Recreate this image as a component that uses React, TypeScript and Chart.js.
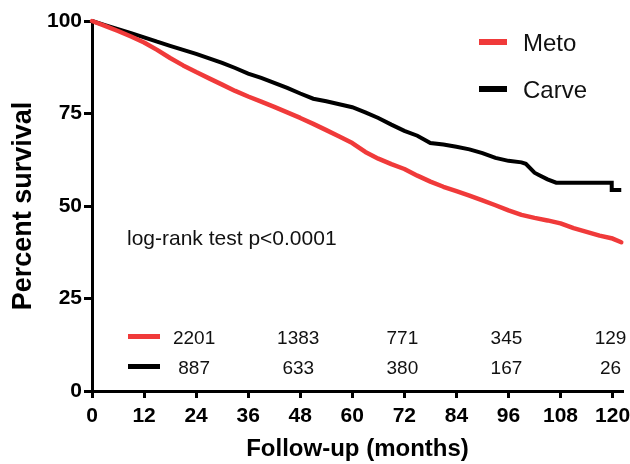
import React, { useEffect, useRef } from 'react';
import { Chart, registerables } from 'chart.js';

Chart.register(...registerables);

// ---- data ----
const seriesNames = ['Meto', 'Carve'];
const metoMonths = [0, 3, 6, 9, 12, 15, 18, 21, 24, 27, 30, 33, 36, 39, 42, 45, 48, 51, 54, 57, 60, 63, 66, 69, 72, 75, 78, 81, 84, 87, 90, 93, 96, 99, 102, 105, 108, 111, 114, 117, 120, 122];
const metoSurvival = [100, 98.7, 97.3, 95.8, 94.2, 92.2, 90, 88, 86.2, 84.5, 82.8, 81.1, 79.6, 78.2, 76.8, 75.3, 73.8, 72.2, 70.5, 68.8, 67, 64.6, 62.8, 61.3, 60, 58.2, 56.6, 55.2, 54, 52.8, 51.5, 50.2, 48.8, 47.6, 46.8, 46.1, 45.3, 44, 43, 42, 41.2, 40.2];
const carveMonths = [0, 3, 6, 9, 12, 15, 18, 21, 24, 27, 30, 33, 36, 39, 42, 45, 48, 51, 54, 57, 60, 63, 66, 69, 72, 75, 78, 81, 84, 87, 90, 93, 96, 99, 100, 102, 103, 105, 107, 119.8, 119.8, 122];
const carveSurvival = [100, 98.9, 97.8, 96.7, 95.6, 94.4, 93.3, 92.2, 91.1, 89.9, 88.7, 87.3, 85.8, 84.6, 83.3, 81.9, 80.4, 79, 78.3, 77.5, 76.7, 75.3, 73.8, 72, 70.3, 69, 67, 66.6, 66, 65.3, 64.3, 63, 62.2, 61.8, 61.4, 59, 58.4, 57.2, 56.3, 56.3, 54.3, 54.3];
const xTickStep = 12;
const yTickStep = 25;
const riskMonths = [24, 48, 72, 96, 120];
const metoAtRisk = [2201, 1383, 771, 345, 129];
const carveAtRisk = [887, 633, 380, 167, 26];
const testLabel = 'log-rank test p<0.0001';
const xTitle = 'Follow-up (months)';
const yTitle = 'Percent survival';

const RED = '#f03a3a';
const BLACK = '#000000';
const FONT = '"Liberation Sans", Arial, Helvetica, sans-serif';

const overlayPlugin = {
  id: 'kmOverlay',
  afterDraw(chart: any) {
    const { ctx, chartArea, scales } = chart;
    const x = scales.x;
    const colors = [RED, BLACK];
    ctx.save();
    ctx.fillStyle = '#111';
    ctx.textBaseline = 'alphabetic';

    // legend (top-right)
    const legLineX1 = chartArea.right - 144;
    const legLineX2 = chartArea.right - 116;
    const legTextX = chartArea.right - 100;
    const legLineY = [chartArea.top + 21, chartArea.top + 68];
    ctx.font = '24px ' + FONT;
    ctx.textAlign = 'left';
    seriesNames.forEach((name, i) => {
      ctx.strokeStyle = colors[i];
      ctx.lineWidth = 6;
      ctx.beginPath();
      ctx.moveTo(legLineX1, legLineY[i]);
      ctx.lineTo(legLineX2, legLineY[i]);
      ctx.stroke();
      ctx.fillText(name, legTextX, legLineY[i] + 9);
    });

    // log-rank annotation
    ctx.font = '21px ' + FONT;
    ctx.fillText(testLabel, chartArea.left + 35, chartArea.top + 224);

    // numbers at risk
    const rowY = [chartArea.bottom - 54.5, chartArea.bottom - 24.5];
    const rows = [metoAtRisk, carveAtRisk];
    ctx.font = '19px ' + FONT;
    ctx.textAlign = 'center';
    rows.forEach((vals, r) => {
      ctx.strokeStyle = colors[r];
      ctx.lineWidth = 5;
      ctx.beginPath();
      ctx.moveTo(chartArea.left + 36, rowY[r]);
      ctx.lineTo(chartArea.left + 68, rowY[r]);
      ctx.stroke();
      vals.forEach((v, i) => {
        ctx.fillText(String(v), x.getPixelForValue(riskMonths[i]) - 2, rowY[r] + 7);
      });
    });
    ctx.restore();
  },
};

export default function App() {
  const canvasRef = useRef<HTMLCanvasElement | null>(null);

  useEffect(() => {
    if (!canvasRef.current) return;
    const chart = new Chart(canvasRef.current, {
      type: 'line',
      data: {
        datasets: [
          {
            label: seriesNames[0],
            data: metoMonths.map((m, i) => ({ x: m, y: metoSurvival[i] })),
            borderColor: RED,
            borderWidth: 4.5,
            pointRadius: 0,
            tension: 0,
            fill: false,
            clip: false as any,
            borderJoinStyle: 'round',
            borderCapStyle: 'round',
          },
          {
            label: seriesNames[1],
            data: carveMonths.map((m, i) => ({ x: m, y: carveSurvival[i] })),
            borderColor: BLACK,
            borderWidth: 4,
            pointRadius: 0,
            tension: 0,
            fill: false,
            clip: false as any,
            borderJoinStyle: 'miter',
          },
        ],
      },
      options: {
        responsive: false,
        animation: false,
        layout: { padding: { top: 21, right: 7, left: 0, bottom: 0 } },
        plugins: { legend: { display: false }, tooltip: { enabled: false } },
        scales: {
          x: {
            type: 'linear',
            min: 0,
            max: 122.4,
            afterFit: (s: any) => { s.height = 73; s.paddingRight = 0; s.paddingLeft = 0; },
            ticks: {
              stepSize: xTickStep,
              includeBounds: false,
              color: '#000',
              padding: 6,
              maxRotation: 0,
              font: { family: FONT, size: 21, weight: 'bold' },
            },
            grid: { drawOnChartArea: false, drawTicks: true, tickLength: 7, tickWidth: 3, tickColor: '#000' },
            border: { display: true, color: '#000', width: 3 },
            title: {
              display: true,
              text: xTitle,
              color: '#000',
              font: { family: FONT, size: 24, weight: 'bold' },
              padding: { top: 0, bottom: 0 },
            },
          },
          y: {
            type: 'linear',
            min: 0,
            max: 100,
            afterFit: (s: any) => { s.width = 92; s.paddingTop = 0; s.paddingBottom = 0; },
            ticks: {
              stepSize: yTickStep,
              color: '#000',
              padding: 2,
              font: { family: FONT, size: 21, weight: 'bold' },
            },
            grid: { drawOnChartArea: false, drawTicks: true, tickLength: 8, tickWidth: 3, tickColor: '#000' },
            border: { display: true, color: '#000', width: 3 },
            title: {
              display: true,
              text: yTitle,
              color: '#000',
              font: { family: FONT, size: 27, weight: 'bold' },
              padding: { top: 7, bottom: 0 },
            },
          },
        },
      },
      plugins: [overlayPlugin],
    } as any);
    return () => chart.destroy();
  }, []);

  return (
    <div style={{ position: 'absolute', left: 0, top: 0, width: 630, height: 464, background: '#fff' }}>
      <canvas ref={canvasRef} width={630} height={464} />
    </div>
  );
}
